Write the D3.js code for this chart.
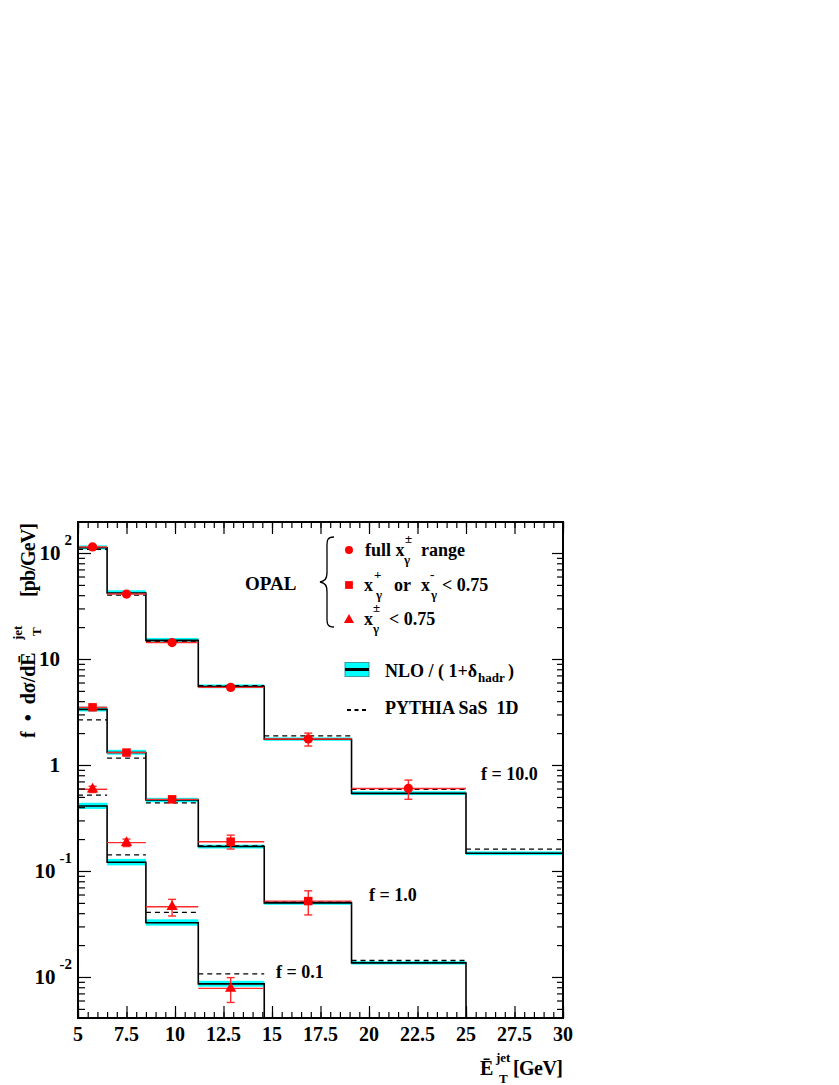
<!DOCTYPE html>
<html>
<head>
<meta charset="utf-8">
<script src="https://cdn.jsdelivr.net/npm/d3@7"></script>
<style>
  body { margin: 0; background: #fff; }
  svg text { font-family: 'Liberation Serif', 'Times New Roman', serif; font-weight: bold; fill: #000; }
</style>
</head>
<body>
<div id="chart"></div>
<script>
// bin edges in mean E_T^jet [GeV]
const binEdges = [5, 6.5, 8.5, 11.2, 14.6, 19.1, 25, 30];
const xTickValues = [5, 7.5, 10, 12.5, 15, 17.5, 20, 22.5, 25, 27.5, 30];
const xTickLabels = ['5', '7.5', '10', '12.5', '15', '17.5', '20', '22.5', '25', '27.5', '30'];
const yTickValues = [0.01, 0.1, 1, 10, 100];
const yTickBase = ['10', '10', '1', '10', '10'];
const yTickExp = ['-2', '-1', '', '', '2'];

// full x_gamma range, f = 10.0
const nloFull   = [112, 42, 15.0, 5.5, 1.75, 0.54, 0.147];
const nloFullLo = [108, 40.5, 14.5, 5.3, 1.69, 0.52, 0.141];
const nloFullHi = [118, 44.5, 15.8, 5.75, 1.82, 0.565, 0.153];
const pythiaFull = [108, 40, 14.6, 5.6, 1.88, 0.59, 0.161];
const dataFullX  = [5.75, 7.5, 9.85, 12.87, 16.87, 22.03];
const dataFull   = [114, 41, 14.3, 5.4, 1.76, 0.60];
const dataFullUp = [118, 42.5, 14.9, 5.65, 2.0, 0.72];
const dataFullDn = [110, 39.5, 13.8, 5.15, 1.51, 0.475];

// x+ or x- < 0.75, f = 1.0
const nloOne   = [3.35, 1.31, 0.467, 0.17, 0.050, 0.0136, null];
const nloOneLo = [3.2, 1.25, 0.445, 0.163, 0.048, 0.0131, null];
const nloOneHi = [3.55, 1.39, 0.49, 0.177, 0.052, 0.0141, null];
const pythiaOne = [2.66, 1.16, 0.44, 0.172, 0.051, 0.0143, null];
const dataOneX  = [5.75, 7.5, 9.85, 12.87, 16.87];
const dataOne   = [3.5, 1.31, 0.474, 0.189, 0.052];
const dataOneUp = [3.65, 1.37, 0.505, 0.218, 0.065];
const dataOneDn = [3.35, 1.25, 0.445, 0.161, 0.0385];

// x+- < 0.75, f = 0.1
const nloBoth   = [0.41, 0.121, 0.0325, 0.0086, null, null, null];
const nloBothLo = [0.385, 0.113, 0.0305, 0.0081, null, null, null];
const nloBothHi = [0.44, 0.13, 0.035, 0.0092, null, null, null];
const pythiaBoth = [0.52, 0.1416, 0.0407, 0.0107, null, null, null];
const dataBothX  = [5.75, 7.5, 9.85, 12.87];
const dataBoth   = [0.59, 0.185, 0.046, 0.0078];
const dataBothUp = [0.63, 0.2, 0.054, 0.00986];
const dataBothDn = [0.55, 0.17, 0.0376, 0.00575];

const W = 839, H = 1085;
const margin = { left: 78, top: 522, right: 276, bottom: 67 };
const width = W - margin.left - margin.right;
const height = H - margin.top - margin.bottom;

const svg = d3.select('#chart').append('svg')
    .attr('width', W).attr('height', H);

svg.append('defs').append('clipPath').attr('id', 'clip')
    .append('rect').attr('width', width).attr('height', height);

const g = svg.append('g').attr('transform', `translate(${margin.left},${margin.top})`);

const x = d3.scaleLinear().domain([5, 30]).range([0, width]);
const y = d3.scaleLog().domain([Math.pow(10, -2.387), Math.pow(10, 2.2925)]).range([height, 0]);

const plot = g.append('g').attr('clip-path', 'url(#clip)');

const series = [
    { nlo: nloFull, lo: nloFullLo, hi: nloFullHi, py: pythiaFull, dx: dataFullX, d: dataFull, up: dataFullUp, dn: dataFullDn, sym: d3.symbolCircle, size: 68 },
    { nlo: nloOne, lo: nloOneLo, hi: nloOneHi, py: pythiaOne, dx: dataOneX, d: dataOne, up: dataOneUp, dn: dataOneDn, sym: d3.symbolSquare, size: 72 },
    { nlo: nloBoth, lo: nloBothLo, hi: nloBothHi, py: pythiaBoth, dx: dataBothX, d: dataBoth, up: dataBothUp, dn: dataBothDn, sym: d3.symbolTriangle, size: 55 }
];

// bands
series.forEach(s => {
    plot.selectAll(null)
        .data(s.nlo.map((v, i) => ({ i, lo: s.lo[i], hi: s.hi[i] })).filter(b => b.lo != null))
        .enter().append('rect')
        .attr('x', b => x(binEdges[b.i]))
        .attr('width', b => x(binEdges[b.i + 1]) - x(binEdges[b.i]))
        .attr('y', b => y(b.hi))
        .attr('height', b => y(b.lo) - y(b.hi))
        .attr('fill', '#00ffff');
});

// NLO histograms
series.forEach(s => {
    let p = '';
    s.nlo.forEach((v, i) => {
        if (v == null) return;
        if (i === 0) p += `M${x(binEdges[0])},${y(v)}`;
        else p += `V${y(v)}`;
        p += `H${x(binEdges[i + 1])}`;
        const next = s.nlo[i + 1];
        if (next === null) p += `V${height}`;
    });
    plot.append('path').attr('d', p)
        .attr('fill', 'none').attr('stroke', '#000').attr('stroke-width', 1.6);
});

// PYTHIA dashed
series.forEach(s => {
    plot.selectAll(null)
        .data(s.py.map((v, i) => ({ i, v })).filter(b => b.v != null))
        .enter().append('line')
        .attr('x1', b => x(binEdges[b.i]))
        .attr('x2', b => x(binEdges[b.i + 1]))
        .attr('y1', b => y(b.v)).attr('y2', b => y(b.v))
        .attr('stroke', '#000').attr('stroke-width', 1.3)
        .attr('stroke-dasharray', '5,4');
});

// data: bin-width lines, error bars, markers
series.forEach(s => {
    const pts = s.d.map((v, i) => ({ i, v, px: s.dx[i], up: s.up[i], dn: s.dn[i] }));
    const dg = plot.append('g');
    dg.selectAll('.hbar').data(pts).enter().append('line')
        .attr('x1', d => x(binEdges[d.i])).attr('x2', d => x(binEdges[d.i + 1]))
        .attr('y1', d => y(d.v)).attr('y2', d => y(d.v))
        .attr('stroke', '#ff2a2a').attr('stroke-width', 1.4);
    dg.selectAll('.vbar').data(pts).enter().append('line')
        .attr('x1', d => x(d.px)).attr('x2', d => x(d.px))
        .attr('y1', d => y(d.up)).attr('y2', d => y(d.dn))
        .attr('stroke', '#ff2a2a').attr('stroke-width', 1.4);
    ['up', 'dn'].forEach(k => {
        dg.selectAll(null).data(pts).enter().append('line')
            .attr('x1', d => x(d.px) - 4).attr('x2', d => x(d.px) + 4)
            .attr('y1', d => y(d[k])).attr('y2', d => y(d[k]))
            .attr('stroke', '#ff2a2a').attr('stroke-width', 1.4);
    });
    dg.selectAll('.mk').data(pts).enter().append('path')
        .attr('d', d3.symbol().type(s.sym).size(s.size))
        .attr('transform', d => `translate(${x(d.px)},${y(d.v)})`)
        .attr('fill', '#ff0000');
});

// axes (ticks inward on all four sides)
const xMinor = d3.range(5, 30.01, 0.5);
const yMinor = [];
[-3, -2, -1, 0, 1, 2].forEach(e => { for (let k = 2; k <= 9; k++) yMinor.push(k * Math.pow(10, e)); });
const yMinorIn = yMinor.filter(v => v >= y.domain()[0] && v <= y.domain()[1]);

const axisStyle = sel => { sel.select('.domain').remove(); sel.selectAll('line').attr('stroke', '#000').attr('stroke-width', 1.2); sel.selectAll('text').remove(); };

g.append('g').attr('transform', `translate(0,${height})`)
    .call(d3.axisBottom(x).tickValues(xMinor).tickSizeInner(-6).tickSizeOuter(0)).call(axisStyle);
g.append('g').attr('transform', `translate(0,${height})`)
    .call(d3.axisBottom(x).tickValues(xTickValues).tickSizeInner(-12).tickSizeOuter(0)).call(axisStyle);
g.append('g')
    .call(d3.axisTop(x).tickValues(xMinor).tickSizeInner(-6).tickSizeOuter(0)).call(axisStyle);
g.append('g')
    .call(d3.axisTop(x).tickValues(xTickValues).tickSizeInner(-12).tickSizeOuter(0)).call(axisStyle);
g.append('g')
    .call(d3.axisLeft(y).tickValues(yMinorIn).tickSizeInner(-7).tickSizeOuter(0)).call(axisStyle);
g.append('g')
    .call(d3.axisLeft(y).tickValues(yTickValues).tickSizeInner(-13).tickSizeOuter(0)).call(axisStyle);
g.append('g').attr('transform', `translate(${width},0)`)
    .call(d3.axisRight(y).tickValues(yMinorIn).tickSizeInner(-6).tickSizeOuter(0)).call(axisStyle);
g.append('g').attr('transform', `translate(${width},0)`)
    .call(d3.axisRight(y).tickValues(yTickValues).tickSizeInner(-11).tickSizeOuter(0)).call(axisStyle);

g.append('rect').attr('width', width).attr('height', height)
    .attr('fill', 'none').attr('stroke', '#000').attr('stroke-width', 2);

// tick labels
g.selectAll('.xl').data(xTickValues).enter().append('text')
    .attr('x', d => x(d)).attr('y', height + 23)
    .attr('text-anchor', 'middle').attr('font-size', 20)
    .text((d, i) => xTickLabels[i]);

yTickValues.forEach((v, i) => {
    const ty = y(v);
    if (yTickExp[i] === '') {
        g.append('text').attr('x', -18).attr('y', ty + 7)
            .attr('text-anchor', 'end').attr('font-size', 21).text(yTickBase[i]);
    } else {
        const ex = g.append('text').attr('x', -6).attr('y', ty - 8)
            .attr('text-anchor', 'end').attr('font-size', 15).text(yTickExp[i]);
        const ew = ex.node().getComputedTextLength();
        g.append('text').attr('x', -6 - ew - 4).attr('y', ty + 7)
            .attr('text-anchor', 'end').attr('font-size', 21).text(yTickBase[i]);
    }
});

// axis titles
const xt = svg.append('g');
xt.append('text').attr('x', 480).attr('y', 1075).attr('font-size', 20).text('\u0112');
xt.append('text').attr('x', 496).attr('y', 1062).attr('font-size', 13).text('jet');
xt.append('text').attr('x', 499).attr('y', 1083).attr('font-size', 13).text('T');
xt.append('text').attr('x', 513).attr('y', 1075).attr('font-size', 20).attr('textLength', 50).text('[GeV]');

const yt = svg.append('g').attr('transform', 'translate(35,738) rotate(-90)');
yt.append('text').attr('x', 0).attr('y', 0).attr('font-size', 20).attr('xml:space', 'preserve').text('f  \u2022  d\u03c3/d\u0112');
yt.append('text').attr('x', 98).attr('y', -13).attr('font-size', 13).text('jet');
yt.append('text').attr('x', 102).attr('y', 6).attr('font-size', 13).text('T');
yt.append('text').attr('x', 141).attr('y', 0).attr('font-size', 20).attr('textLength', 74).text('[pb/GeV]');

// legend
const lg = svg.append('g');
lg.append('text').attr('x', 245).attr('y', 590).attr('font-size', 19).text('OPAL');
lg.append('path')
    .attr('d', 'M334,537 C326,537 327,542 327,550 L327,572 C327,579 325,581 320,582 C325,583 327,585 327,592 L327,614 C327,622 326,627 334,627')
    .attr('fill', 'none').attr('stroke', '#000').attr('stroke-width', 1.3);

lg.append('path').attr('d', d3.symbol().type(d3.symbolCircle).size(50)).attr('transform', 'translate(349,550)').attr('fill', '#ff0000');
lg.append('path').attr('d', d3.symbol().type(d3.symbolSquare).size(60)).attr('transform', 'translate(349,585)').attr('fill', '#ff0000');
lg.append('path').attr('d', d3.symbol().type(d3.symbolTriangle).size(45)).attr('transform', 'translate(349,620)').attr('fill', '#ff0000');

const row = (parts) => parts.forEach(p => lg.append('text').attr('x', p[0]).attr('y', p[1]).attr('font-size', p[2]).attr('xml:space', 'preserve').text(p[3]));
row([[365, 556, 18, 'full x'], [405, 543, 13, '\u00b1'], [404, 564, 13, '\u03b3'], [421, 556, 18, 'range']]);
row([[364, 591, 18, 'x'], [374, 579, 13, '+'], [376, 599, 13, '\u03b3'], [394, 591, 18, 'or'], [421, 591, 18, 'x'], [430, 579, 13, '-'], [431, 599, 13, '\u03b3'], [442, 591, 18, '< 0.75']]);
row([[364, 625, 18, 'x'], [373, 612, 13, '\u00b1'], [373, 633, 13, '\u03b3'], [389, 625, 18, '< 0.75']]);

lg.append('rect').attr('x', 345).attr('y', 662.5).attr('width', 24).attr('height', 14)
    .attr('fill', '#00ffff').attr('stroke', '#3b9b9b').attr('stroke-width', 1);
lg.append('line').attr('x1', 345).attr('x2', 369).attr('y1', 669.5).attr('y2', 669.5)
    .attr('stroke', '#000').attr('stroke-width', 3);
row([[385, 677, 18, 'NLO / ( 1+\u03b4'], [478, 682, 13, 'hadr'], [508, 677, 18, ')']]);

lg.append('line').attr('x1', 347).attr('x2', 369).attr('y1', 710).attr('y2', 710)
    .attr('stroke', '#000').attr('stroke-width', 2).attr('stroke-dasharray', '4,3.5');
row([[385, 714, 18, 'PYTHIA SaS  1D']]);

// scale factors
svg.append('text').attr('x', 481).attr('y', 780).attr('font-size', 18).text('f = 10.0');
svg.append('text').attr('x', 369).attr('y', 901).attr('font-size', 18).text('f = 1.0');
svg.append('text').attr('x', 276).attr('y', 978).attr('font-size', 18).text('f = 0.1');
</script>
</body>
</html>
